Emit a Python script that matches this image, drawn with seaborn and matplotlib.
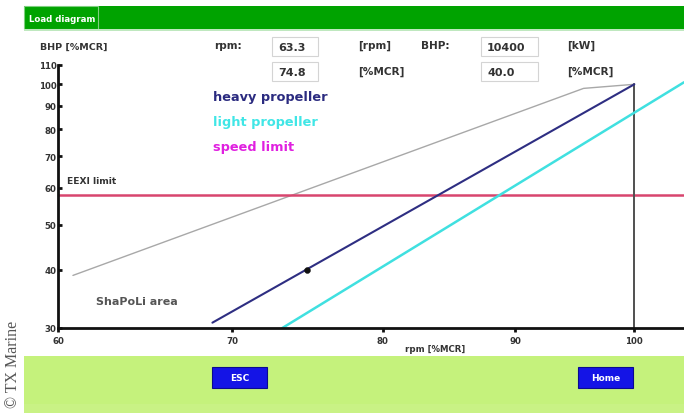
import matplotlib
matplotlib.use("Agg")
import matplotlib.pyplot as plt
from matplotlib.patches import Rectangle
import seaborn as sns
import pandas as pd

# ---- data ----
rpm_ticks = [60, 70, 80, 90, 100]
bhp_ticks = [30, 40, 50, 60, 70, 80, 90, 100, 110]
heavy_rpm = [68.8, 100.0]
heavy_bhp = [30.8, 100.0]
light_rpm = [73.2, 104.5]
light_bhp = [30.0, 101.0]
limit_rpm = [60.8, 95.6, 100.0]
limit_bhp = [38.9, 98.0, 100.0]
mcr_rpm = [100.0, 100.0]
mcr_bhp = [30.0, 100.0]
eexi_limit = 58.0
op_rpm = [74.8]
op_bhp = [40.0]
legend_labels = ["heavy propeller", "light propeller", "speed limit"]
field_labels = ["rpm:", "[rpm]", "BHP:", "[kW]", "[%MCR]", "[%MCR]"]
field_values = ["63.3", "74.8", "10400", "40.0"]

sns.set_style("white")
plt.rcParams['font.family'] = ['DejaVu Sans']

W, H = 684, 414
fig = plt.figure(figsize=(W / 100, H / 100), dpi=100)
fig.patch.set_facecolor("white")

# background / UI layer in pixel coordinates
bg = fig.add_axes([0, 0, 1, 1])
bg.set_xlim(0, W)
bg.set_ylim(H, 0)
bg.axis("off")

bg.add_patch(Rectangle((24, 7), W - 24, 23, color="#00a300", lw=0))
bg.add_patch(Rectangle((24, 7), 74, 23, facecolor="#00a300", edgecolor="#7fd07f", lw=0.8))
bg.add_patch(Rectangle((24, 30), W - 24, 1.5, color="#bfe8bf", lw=0))
bg.text(29, 19, "Load diagram", color="white", fontsize=6.2, fontweight="bold", va="center", ha="left")

bg.add_patch(Rectangle((24, 357), W - 24, 57, color="#c5f27c", lw=0))
bg.add_patch(Rectangle((24, 405), W - 24, 9, color="#c9f285", lw=0))
for (x0, label) in [(212, "ESC"), (578, "Home")]:
    bg.add_patch(Rectangle((x0, 368), 55, 21, facecolor="#1414e6", edgecolor="#0a0a90", lw=0.8))
    bg.text(x0 + 27.5, 378.5, label, color="white", fontsize=6.5, fontweight="bold", ha="center", va="center")

bg.text(13, 364, "© TX Marine", rotation=90, family=["Liberation Serif", "DejaVu Serif"],
        fontsize=11.5, color="#555555", ha="center", va="center")

txt = dict(fontsize=7.6, fontweight="bold", color="#333333", va="center", ha="left")
bg.text(40, 47, "BHP [%MCR]", fontsize=6.8, fontweight="bold", color="#333333", va="center", ha="left")
bg.text(214, 46, field_labels[0], **txt)
bg.text(358, 46, field_labels[1], **txt)
bg.text(421, 46, field_labels[2], **txt)
bg.text(567, 46, field_labels[3], **txt)
bg.text(358, 72, field_labels[4], **txt)
bg.text(567, 72, field_labels[5], **txt)
boxes = [(272, 38, 46), (272, 63, 46), (481, 38, 57), (481, 63, 57)]
for (bx, by, bw), val in zip(boxes, field_values):
    bg.add_patch(Rectangle((bx, by), bw, 19, facecolor="white", edgecolor="#d4d4d4", lw=0.8))
    bg.text(bx + 6, by + 10, val, fontsize=8, fontweight="bold", color="#333333", va="center", ha="left")

leg_colors = ["#2b2b80", "#40e6e6", "#e020e0"]
for i, (lab, c) in enumerate(zip(legend_labels, leg_colors)):
    bg.text(213, 98 + i * 25, lab, color=c, fontsize=9.3, fontweight="bold", va="center", ha="left")
bg.text(67, 182, "EEXI limit", fontsize=6.6, fontweight="bold", color="#333333", va="center", ha="left")
bg.text(96, 302, "ShaPoLi area", fontsize=8, fontweight="bold", color="#555555", va="center", ha="left")

# ---- main chart ----
ax = fig.add_axes([58 / W, (H - 329) / H, (W - 58) / W, (329 - 66) / H])
ax.patch.set_alpha(0)
ax.set_xscale("log")
ax.set_yscale("log")

df_limit = pd.DataFrame({"rpm": limit_rpm, "bhp": limit_bhp})
df_heavy = pd.DataFrame({"rpm": heavy_rpm, "bhp": heavy_bhp})
df_light = pd.DataFrame({"rpm": light_rpm, "bhp": light_bhp})
df_mcr = pd.DataFrame({"rpm": mcr_rpm, "bhp": mcr_bhp})
df_op = pd.DataFrame({"rpm": op_rpm, "bhp": op_bhp})

sns.lineplot(data=df_limit, x="rpm", y="bhp", ax=ax, color="#a8a8a8", lw=1.0, sort=False, estimator=None)
ax.axhline(eexi_limit, color="#d8456e", lw=1.8)
sns.lineplot(data=df_mcr, x="rpm", y="bhp", ax=ax, color="#505050", lw=1.4, sort=False, estimator=None)
sns.lineplot(data=df_light, x="rpm", y="bhp", ax=ax, color="#40e0e0", lw=1.8, sort=False, estimator=None)
sns.lineplot(data=df_heavy, x="rpm", y="bhp", ax=ax, color="#2e2e82", lw=1.5, sort=False, estimator=None)
sns.scatterplot(data=df_op, x="rpm", y="bhp", ax=ax, color="#111111", s=18, edgecolor="#111111", zorder=5)

ax.set_xlim(60, 104.5)
ax.set_ylim(30, 110)
ax.set_xticks(rpm_ticks)
ax.set_xticklabels([str(t) for t in rpm_ticks])
ax.set_yticks(bhp_ticks)
ax.set_yticklabels([str(t) for t in bhp_ticks])
ax.minorticks_off()
ax.set_xlabel("")
ax.set_ylabel("")
for s in ["top", "right"]:
    ax.spines[s].set_visible(False)
for s in ["left", "bottom"]:
    ax.spines[s].set_color("#111111")
    ax.spines[s].set_linewidth(2)
ax.tick_params(axis="y", direction="in", length=3, width=2, color="#111111", pad=1,
               labelsize=6.2, labelcolor="#333333", left=True)
ax.tick_params(axis="x", direction="out", length=3, width=2, color="#111111", pad=3,
               labelsize=6.2, labelcolor="#333333", bottom=True)
for lbl in ax.get_xticklabels() + ax.get_yticklabels():
    lbl.set_fontweight("bold")
bg.text(405, 350, "rpm [%MCR]", fontsize=6.2, fontweight="bold", color="#333333", va="center", ha="left")

fig.savefig("out.png", dpi=100)
